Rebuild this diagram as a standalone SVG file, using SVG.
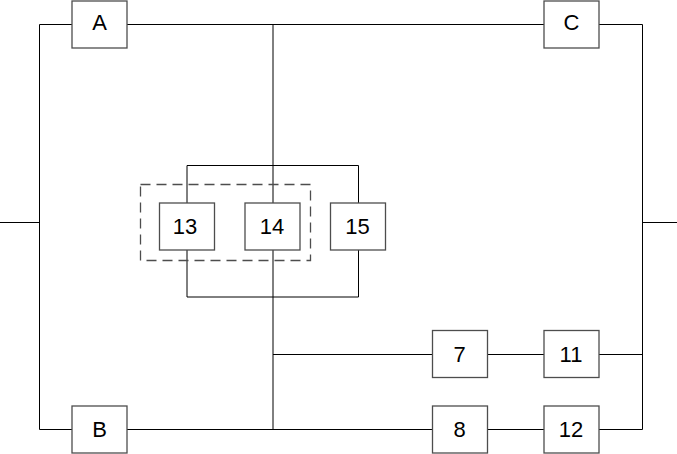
<svg xmlns="http://www.w3.org/2000/svg" width="677" height="454" viewBox="0 0 677 454">
<style>
.box{fill:#fff;stroke:#4d4d4d;stroke-width:1.3}
.ln{fill:none;stroke:#000;stroke-width:1}
.dash{fill:none;stroke:#4d4d4d;stroke-width:1.3;stroke-dasharray:10 6}
.lbl{font-family:"Liberation Sans",Arial,sans-serif;font-size:22px;fill:#000;text-anchor:middle}
</style>
<rect width="677" height="454" fill="#fff"/>
<g id="connectors">
<polyline class="ln" points="0,222.5 39.5,222.5"/>
<polyline class="ln" points="72,24.5 39.5,24.5 39.5,429.5 72,429.5"/>
<polyline class="ln" points="127,24.5 544,24.5"/>
<polyline class="ln" points="599,24.5 642.5,24.5 642.5,429.5 599,429.5"/>
<polyline class="ln" points="642.5,222.5 677,222.5"/>
<polyline class="ln" points="273,24.5 273,429.5"/>
<polyline class="ln" points="127,429.5 432,429.5"/>
<polyline class="ln" points="273,354.5 432,354.5"/>
<polyline class="ln" points="488,354.5 544,354.5"/>
<polyline class="ln" points="599,354.5 642.5,354.5"/>
<polyline class="ln" points="488,429.5 544,429.5"/>
<polyline class="ln" points="187,203 187,165.5 358.5,165.5 358.5,203"/>
<polyline class="ln" points="187,250 187,297 358.5,297 358.5,250"/>
</g>
<rect id="group1" class="dash" x="140.5" y="184.5" width="170" height="76"/>
<g id="A"><rect class="box" x="72" y="1" width="55" height="47"/><text class="lbl" x="99.5" y="30" font-size="22">A</text></g>
<g id="C"><rect class="box" x="544" y="1" width="55" height="47"/><text class="lbl" x="571.5" y="30" font-size="22">C</text></g>
<g id="B"><rect class="box" x="72" y="406" width="55" height="47"/><text class="lbl" x="99.5" y="437" font-size="22">B</text></g>
<g id="n13"><rect class="box" x="159.5" y="203" width="55" height="47"/><text class="lbl" x="185" y="234" font-size="22">13</text></g>
<g id="n14"><rect class="box" x="245" y="203" width="55" height="47"/><text class="lbl" x="272" y="234" font-size="22">14</text></g>
<g id="n15"><rect class="box" x="330.5" y="203" width="55" height="47"/><text class="lbl" x="357.5" y="234" font-size="22">15</text></g>
<g id="n7"><rect class="box" x="432.5" y="330.5" width="55" height="47"/><text class="lbl" x="459.5" y="362" font-size="22">7</text></g>
<g id="n11"><rect class="box" x="544" y="330.5" width="55" height="47"/><text class="lbl" x="571" y="362" font-size="22">11</text></g>
<g id="n8"><rect class="box" x="432.5" y="406" width="55" height="47"/><text class="lbl" x="459.5" y="437" font-size="22">8</text></g>
<g id="n12"><rect class="box" x="544" y="406" width="55" height="47"/><text class="lbl" x="571" y="437" font-size="22">12</text></g>
</svg>
